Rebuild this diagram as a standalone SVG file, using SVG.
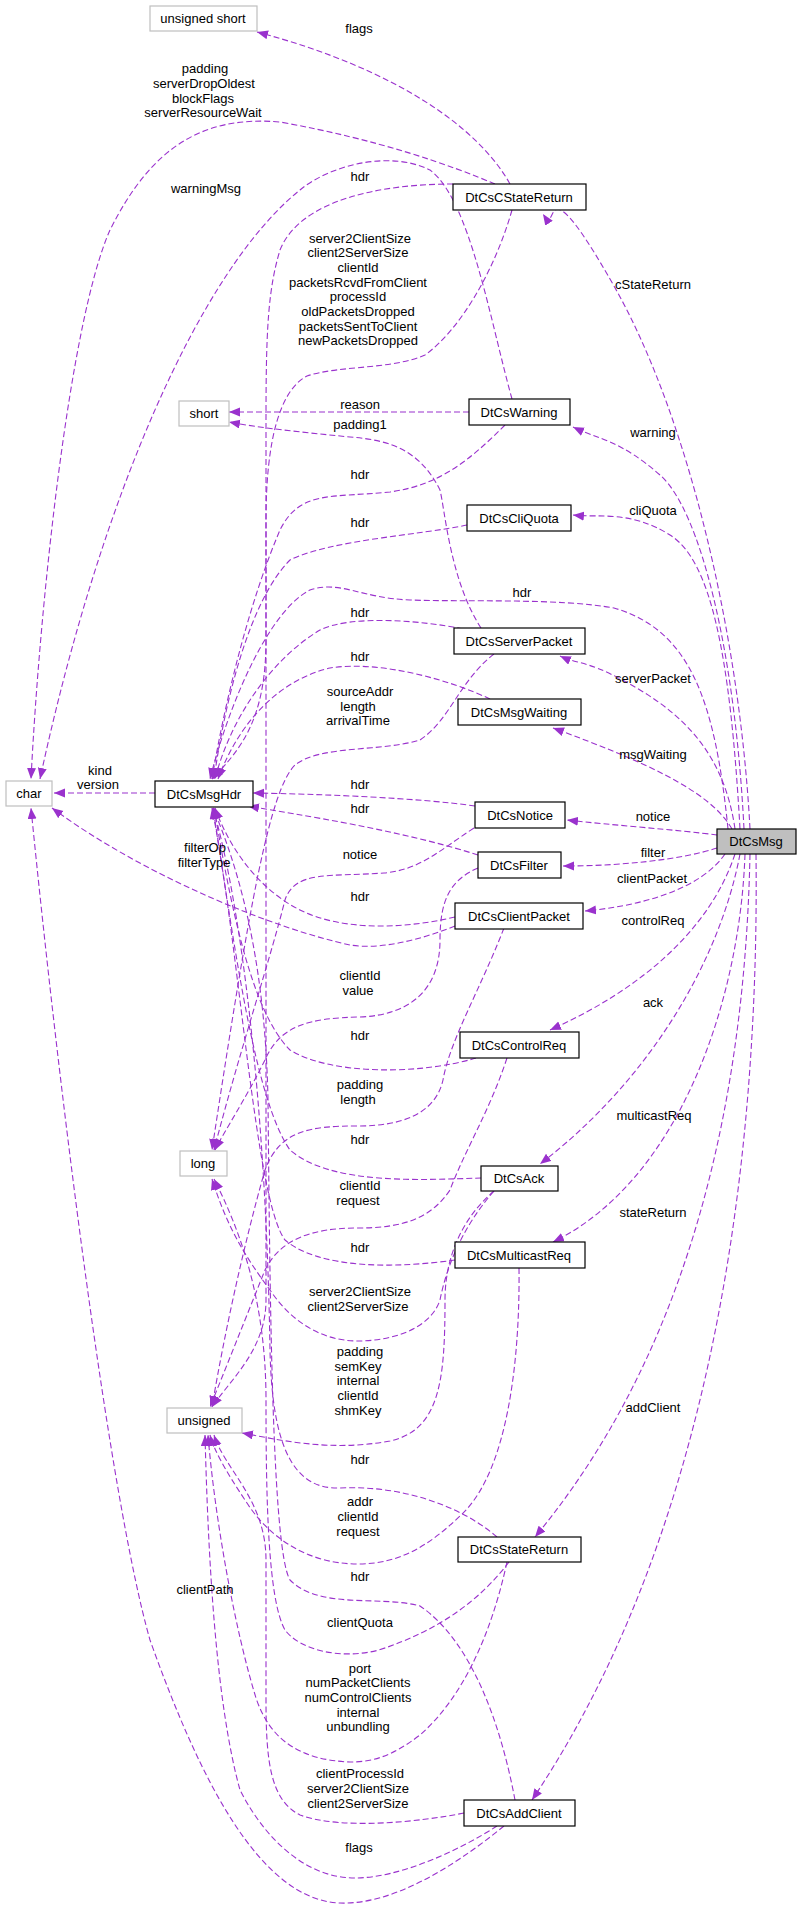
<svg xmlns="http://www.w3.org/2000/svg" width="803" height="1906" viewBox="0 0 803 1906">
<style>
text{font-family:"Liberation Sans",Arial,sans-serif;font-size:13px;fill:#000;text-anchor:middle}
.n rect{fill:#fff;stroke:#000;stroke-width:1.2}
.b rect{fill:#fff;stroke:#bfbfbf;stroke-width:1.2}
.cur rect{fill:#bfbfbf;stroke:#000;stroke-width:1.2}
#edges path{fill:none;stroke:#9a32cd;stroke-width:1.1;stroke-dasharray:6,3;marker-end:url(#a)}
</style>
<defs>
<marker id="a" markerUnits="userSpaceOnUse" markerWidth="12" markerHeight="10" refX="11" refY="4.5" orient="auto">
<path d="M0,0 L11,4.5 L0,9 z" fill="#9a32cd"/>
</marker>
</defs>
<rect width="803" height="1906" fill="#fff"/>
<g id="edges">
<!-- from DtCsMsg -->
<path d="M750,829 C740,640 690,420 614,286 S560,240 543,214"/>
<path d="M744,829 C735,650 700,510 660,475 S600,440 573,427"/>
<path d="M740,829 C730,650 710,560 670,535 S600,518 573,515"/>
<path d="M728,829 C715,700 690,630 614,608 C560,598 460,602 410,600 C360,598 340,580 310,590 C270,610 230,700 210,779"/>
<path d="M735,829 C725,760 690,720 640,690 S580,665 560,656"/>
<path d="M732,829 C710,790 640,760 553,728"/>
<path d="M717,835 C680,830 610,825 567,820"/>
<path d="M717,848 C680,860 620,866 563,866"/>
<path d="M725,854 C700,890 640,906 585,911"/>
<path d="M735,854 C710,930 640,990 550,1030"/>
<path d="M740,854 C720,960 650,1080 540,1164"/>
<path d="M745,854 C740,1000 680,1180 553,1242"/>
<path d="M750,854 C745,1100 690,1350 535,1537"/>
<path d="M756,854 C760,1200 700,1550 532,1800"/>
<!-- hdr edges to DtCsMsgHdr -->
<path d="M453,184 C380,184 300,200 280,250 C268,290 266,330 266,420 L266,640 C266,720 240,750 212,779"/>
<path d="M505,425 C470,460 440,485 390,492 C330,498 300,490 280,530 C250,600 225,700 212,779"/>
<path d="M467,525 C420,535 330,540 290,560 C250,600 225,700 214,779"/>
<path d="M463,629 C420,620 350,615 320,630 C270,660 230,720 215,779"/>
<path d="M490,699 C450,680 380,660 330,668 C280,680 240,720 218,779"/>
<path d="M475,806 C420,798 320,794 253,793"/>
<path d="M478,855 C400,830 300,815 248,806"/>
<path d="M455,917 C400,930 340,930 300,910 C260,890 230,850 215,808"/>
<path d="M476,1058 C420,1075 330,1075 290,1050 C250,1010 230,900 214,808"/>
<path d="M481,1178 C420,1180 330,1185 290,1150 C255,1100 235,950 213,808"/>
<path d="M455,1260 C400,1268 320,1270 285,1240 C255,1200 240,950 212,808"/>
<path d="M497,1537 C460,1505 400,1485 340,1488 C290,1490 272,1440 270,1350 C266,1100 240,900 213,808"/>
<path d="M515,1800 C500,1720 470,1640 420,1606 C380,1595 320,1610 290,1580 C272,1550 270,1300 268,1100 C265,950 235,860 213,808"/>
<!-- to char -->
<path d="M155,793 L54,793"/>
<path d="M495,184 C450,165 380,140 280,122 C200,115 150,150 110,230 C70,320 40,600 31,779"/>
<path d="M512,399 C490,320 470,200 430,170 C390,150 330,165 300,190 C200,270 100,500 40,779"/>
<path d="M455,926 C420,940 380,950 350,945 C280,930 150,880 52,808"/>
<path d="M504,1826 C450,1870 390,1905 340,1903 C260,1900 200,1780 150,1640 C110,1500 60,1100 31,808"/>
<!-- unsigned short -->
<path d="M510,184 C480,130 400,70 257,32"/>
<!-- short -->
<path d="M469,412 L229,412"/>
<path d="M481,628 C450,580 445,510 440,490 C420,450 390,440 350,437 C300,432 260,428 229,422"/>
<!-- long -->
<path d="M494,654 C460,680 450,720 420,740 C380,752 320,745 295,765 C270,790 250,900 212,1150"/>
<path d="M474,828 C440,850 420,870 384,873 C330,877 295,870 285,900 C270,960 240,1050 214,1150"/>
<path d="M478,868 C450,880 440,900 440,940 C440,990 410,1015 360,1017 C310,1018 280,1025 265,1060 C245,1100 225,1130 215,1150"/>
<path d="M494,1191 C460,1230 446,1270 440,1300 C430,1330 390,1341 358,1341 C320,1341 290,1320 270,1290 C240,1250 225,1220 212,1179"/>
<path d="M509,1562 C480,1600 440,1630 379,1650 C340,1660 300,1650 285,1630 C268,1600 266,1500 266,1400 C266,1300 240,1230 214,1179"/>
<!-- unsigned -->
<path d="M512,210 C495,270 460,330 425,355 C390,370 340,365 307,376 C280,390 266,440 266,520 L266,1300 C266,1350 230,1380 212,1407"/>
<path d="M504,928 C480,990 450,1040 443,1080 C435,1115 400,1126 358,1126 C310,1126 280,1130 265,1170 C245,1240 225,1330 212,1407"/>
<path d="M507,1058 C490,1110 465,1150 450,1190 C430,1220 400,1228 358,1228 C310,1228 280,1240 265,1270 C245,1320 225,1370 210,1407"/>
<path d="M494,1191 C460,1220 445,1260 445,1300 C445,1380 440,1430 390,1441 C330,1452 280,1440 242,1433"/>
<path d="M519,1268 C520,1350 510,1470 461,1515 C430,1545 400,1564 358,1564 C310,1564 270,1540 245,1500 C225,1470 214,1450 210,1435"/>
<path d="M507,1562 C490,1640 460,1700 420,1735 C390,1758 370,1762 350,1762 C300,1760 270,1740 256,1698 C235,1630 215,1520 208,1435"/>
<path d="M464,1813 C420,1822 340,1830 300,1815 C270,1800 266,1760 266,1700 L266,1560 C266,1500 225,1470 214,1435"/>
<path d="M497,1826 C460,1850 400,1878 355,1878 C300,1878 260,1830 240,1790 C215,1700 208,1550 205,1435"/>
</g>
<g id="unsigned_short" class="b"><rect x="150" y="6" width="107" height="25"/><text x="203" y="23">unsigned short</text></g>
<g id="DtCsCStateReturn" class="n"><rect x="453" y="184" width="133" height="26"/><text x="519" y="202">DtCsCStateReturn</text></g>
<g id="short" class="b"><rect x="179" y="401" width="50" height="25"/><text x="204" y="418">short</text></g>
<g id="DtCsWarning" class="n"><rect x="469" y="399" width="101" height="26"/><text x="519" y="417">DtCsWarning</text></g>
<g id="DtCsCliQuota" class="n"><rect x="467" y="505" width="104" height="26"/><text x="519" y="523">DtCsCliQuota</text></g>
<g id="DtCsServerPacket" class="n"><rect x="454" y="628" width="131" height="26"/><text x="519" y="646">DtCsServerPacket</text></g>
<g id="DtCsMsgWaiting" class="n"><rect x="458" y="699" width="123" height="26"/><text x="519" y="717">DtCsMsgWaiting</text></g>
<g id="char" class="b"><rect x="6" y="781" width="46" height="25"/><text x="29" y="798">char</text></g>
<g id="DtCsMsgHdr" class="n"><rect x="155" y="781" width="98" height="26"/><text x="204" y="799">DtCsMsgHdr</text></g>
<g id="DtCsNotice" class="n"><rect x="475" y="802" width="90" height="26"/><text x="520" y="820">DtCsNotice</text></g>
<g id="DtCsMsg" class="cur"><rect x="717" y="829" width="79" height="25"/><text x="756" y="846">DtCsMsg</text></g>
<g id="DtCsFilter" class="n"><rect x="478" y="852" width="83" height="26"/><text x="519" y="870">DtCsFilter</text></g>
<g id="DtCsClientPacket" class="n"><rect x="455" y="903" width="128" height="26"/><text x="519" y="921">DtCsClientPacket</text></g>
<g id="DtCsControlReq" class="n"><rect x="460" y="1032" width="119" height="26"/><text x="519" y="1050">DtCsControlReq</text></g>
<g id="long" class="b"><rect x="180" y="1151" width="47" height="25"/><text x="203" y="1168">long</text></g>
<g id="DtCsAck" class="n"><rect x="481" y="1166" width="77" height="25"/><text x="519" y="1183">DtCsAck</text></g>
<g id="DtCsMulticastReq" class="n"><rect x="455" y="1242" width="130" height="26"/><text x="519" y="1260">DtCsMulticastReq</text></g>
<g id="unsigned" class="b"><rect x="167" y="1408" width="75" height="25"/><text x="204" y="1425">unsigned</text></g>
<g id="DtCsStateReturn" class="n"><rect x="458" y="1537" width="123" height="25"/><text x="519" y="1554">DtCsStateReturn</text></g>
<g id="DtCsAddClient" class="n"><rect x="464" y="1800" width="111" height="26"/><text x="519" y="1818">DtCsAddClient</text></g>
<g id="labels">
<text x="359" y="33">flags</text>
<text x="205" y="73">padding</text><text x="204" y="88">serverDropOldest</text><text x="203" y="103">blockFlags</text><text x="203" y="117">serverResourceWait</text>
<text x="206" y="193">warningMsg</text>
<text x="360" y="181">hdr</text>
<text x="360" y="243">server2ClientSize</text><text x="358" y="257">client2ServerSize</text><text x="358" y="272">clientId</text><text x="358" y="287">packetsRcvdFromClient</text><text x="358" y="301">processId</text><text x="358" y="316">oldPacketsDropped</text><text x="358" y="331">packetsSentToClient</text><text x="358" y="345">newPacketsDropped</text>
<text x="653" y="289">cStateReturn</text>
<text x="360" y="409">reason</text>
<text x="360" y="429">padding1</text>
<text x="653" y="437">warning</text>
<text x="360" y="479">hdr</text>
<text x="653" y="515">cliQuota</text>
<text x="360" y="527">hdr</text>
<text x="522" y="597">hdr</text>
<text x="360" y="617">hdr</text>
<text x="360" y="661">hdr</text>
<text x="653" y="683">serverPacket</text>
<text x="360" y="696">sourceAddr</text><text x="358" y="711">length</text><text x="358" y="725">arrivalTime</text>
<text x="653" y="759">msgWaiting</text>
<text x="100" y="775">kind</text><text x="98" y="789">version</text>
<text x="360" y="789">hdr</text>
<text x="360" y="813">hdr</text>
<text x="653" y="821">notice</text>
<text x="205" y="852">filterOp</text><text x="204" y="867">filterType</text>
<text x="653" y="857">filter</text>
<text x="360" y="859">notice</text>
<text x="652" y="883">clientPacket</text>
<text x="360" y="901">hdr</text>
<text x="653" y="925">controlReq</text>
<text x="360" y="980">clientId</text><text x="358" y="995">value</text>
<text x="653" y="1007">ack</text>
<text x="360" y="1040">hdr</text>
<text x="360" y="1089">padding</text><text x="358" y="1104">length</text>
<text x="654" y="1120">multicastReq</text>
<text x="360" y="1144">hdr</text>
<text x="360" y="1190">clientId</text><text x="358" y="1205">request</text>
<text x="653" y="1217">stateReturn</text>
<text x="360" y="1252">hdr</text>
<text x="360" y="1296">server2ClientSize</text><text x="358" y="1311">client2ServerSize</text>
<text x="360" y="1356">padding</text><text x="358" y="1371">semKey</text><text x="358" y="1385">internal</text><text x="358" y="1400">clientId</text><text x="358" y="1415">shmKey</text>
<text x="653" y="1412">addClient</text>
<text x="360" y="1464">hdr</text>
<text x="360" y="1506">addr</text><text x="358" y="1521">clientId</text><text x="358" y="1536">request</text>
<text x="360" y="1581">hdr</text>
<text x="205" y="1594">clientPath</text>
<text x="360" y="1627">clientQuota</text>
<text x="360" y="1673">port</text><text x="358" y="1687">numPacketClients</text><text x="358" y="1702">numControlClients</text><text x="358" y="1717">internal</text><text x="358" y="1731">unbundling</text>
<text x="360" y="1778">clientProcessId</text><text x="358" y="1793">server2ClientSize</text><text x="358" y="1808">client2ServerSize</text>
<text x="359" y="1852">flags</text>
</g>
</svg>
